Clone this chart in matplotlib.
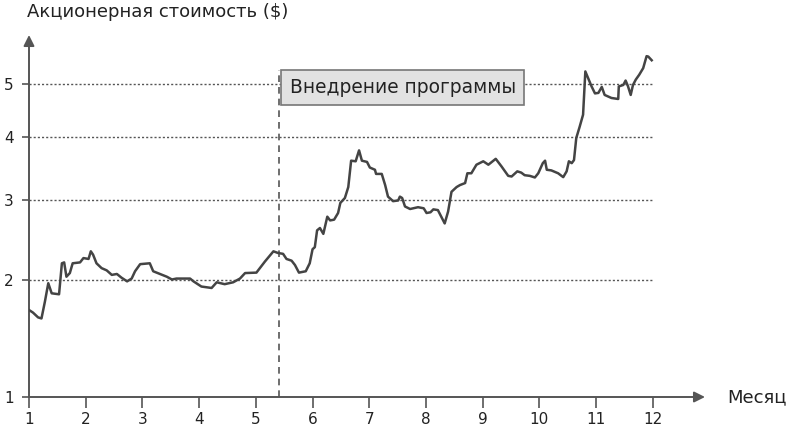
import matplotlib
matplotlib.use("Agg")
import matplotlib.pyplot as plt
import numpy as np

# month (1..12) and share value ($)
months = [1.00, 1.07, 1.16, 1.22, 1.28, 1.34, 1.40, 1.53, 1.58, 1.62, 1.66, 1.72, 1.77, 1.90,
          1.96, 2.05, 2.09, 2.13, 2.19, 2.28, 2.37, 2.46, 2.55, 2.63, 2.73, 2.81, 2.87, 2.96,
          3.13, 3.19, 3.31, 3.43, 3.52, 3.60, 3.84, 3.90, 4.04, 4.22, 4.31, 4.45, 4.60, 4.72,
          4.81, 5.01, 5.16, 5.31, 5.39, 5.48, 5.54, 5.63, 5.69, 5.76, 5.88, 5.95, 6.00, 6.04,
          6.08, 6.13, 6.19, 6.26, 6.31, 6.38, 6.45, 6.49, 6.57, 6.63, 6.68, 6.76, 6.82, 6.87,
          6.96, 7.01, 7.10, 7.12, 7.22, 7.28, 7.33, 7.42, 7.51, 7.54, 7.58, 7.63, 7.72, 7.86,
          7.96, 8.01, 8.08, 8.13, 8.21, 8.27, 8.33, 8.39, 8.45, 8.54, 8.60, 8.69, 8.73, 8.80,
          8.89, 9.01, 9.10, 9.23, 9.33, 9.45, 9.51, 9.61, 9.68, 9.74, 9.83, 9.92, 9.98, 10.06,
          10.10, 10.13, 10.21, 10.33, 10.42, 10.48, 10.52, 10.57, 10.61, 10.65, 10.71, 10.77,
          10.81, 10.86, 10.92, 10.98, 11.04, 11.10, 11.15, 11.27, 11.39, 11.40, 11.48, 11.52,
          11.56, 11.61, 11.65, 11.70, 11.76, 11.83, 11.89, 11.92, 11.98]
values = [1.70, 1.675, 1.63, 1.62, 1.78, 1.97, 1.865, 1.855, 2.19, 2.20, 2.04, 2.08, 2.19, 2.20,
          2.25, 2.24, 2.33, 2.29, 2.19, 2.135, 2.11, 2.06, 2.07, 2.03, 1.99, 2.02, 2.10, 2.18,
          2.19, 2.10, 2.07, 2.04, 2.01, 2.02, 2.02, 1.99, 1.935, 1.92, 1.98, 1.96, 1.98, 2.02,
          2.08, 2.085, 2.21, 2.33, 2.31, 2.30, 2.24, 2.22, 2.17, 2.085, 2.10, 2.19, 2.355, 2.38,
          2.59, 2.62, 2.545, 2.77, 2.72, 2.73, 2.82, 2.96, 3.03, 3.19, 3.60, 3.59, 3.77, 3.60,
          3.58, 3.49, 3.455, 3.39, 3.39, 3.22, 3.05, 2.985, 2.995, 3.05, 3.03, 2.91, 2.875, 2.90,
          2.885, 2.82, 2.83, 2.87, 2.86, 2.77, 2.68, 2.84, 3.12, 3.19, 3.22, 3.25, 3.40, 3.40,
          3.535, 3.59, 3.535, 3.63, 3.51, 3.36, 3.35, 3.43, 3.41, 3.37, 3.36, 3.335, 3.40, 3.56,
          3.60, 3.455, 3.445, 3.40, 3.34, 3.43, 3.59, 3.56, 3.61, 3.98, 4.18, 4.40,
          5.26, 5.12, 4.95, 4.81, 4.82, 4.94, 4.78, 4.72, 4.70, 4.95, 4.98, 5.07,
          4.96, 4.78, 4.98, 5.09, 5.19, 5.33, 5.59, 5.58, 5.50]

x_ticks = list(range(1, 13))
y_ticks = [1, 2, 3, 4, 5]
grid_levels = [2, 3, 4, 5]
launch_month = 5.41
launch_label = "Внедрение программы"

fig = plt.figure(figsize=(7.9, 4.33), dpi=100)
ax = fig.add_axes([29 / 790, 1 - 397 / 433, (705 - 29) / 790, (397 - 35) / 433])

fwd = lambda v: np.power(np.clip(v, 1e-9, None), 0.3)
inv = lambda v: np.power(np.clip(v, 1e-9, None), 1 / 0.3)
ax.set_yscale("function", functions=(fwd, inv))
ax.set_xlim(1, 12.92)
ax.set_ylim(1, 6.07)

for s in ax.spines.values():
    s.set_visible(False)

axis_col = "#555555"
ax.annotate("", xy=(1, 0), xytext=(0, 0), xycoords="axes fraction",
            arrowprops=dict(arrowstyle="-|>", color=axis_col, lw=1.4, mutation_scale=16,
                            shrinkA=0, shrinkB=0))
ax.annotate("", xy=(0, 1), xytext=(0, 0), xycoords="axes fraction",
            arrowprops=dict(arrowstyle="-|>", color=axis_col, lw=1.4, mutation_scale=16,
                            shrinkA=0, shrinkB=0))

ax.hlines(grid_levels, 1, 12, colors="#555555", linestyles=(0, (1.5, 1.5)), lw=1.0, zorder=1)
ax.vlines(launch_month, 1, 5.3, colors="#555555", linestyles=(0, (4, 3)), lw=1.2, zorder=1)

ax.plot(months, values, color="#444444", lw=1.8, zorder=3)

ax.text(5.60, 4.93, launch_label, fontsize=13.4, color="#222222", va="center", ha="left",
        zorder=4, bbox=dict(boxstyle="square,pad=0.45", fc="#e2e2e2", ec="#777777", lw=1.2))

ax.set_xticks(x_ticks)
ax.set_xticklabels([str(t) for t in x_ticks])
ax.set_yticks(y_ticks)
ax.set_yticklabels([str(t) for t in y_ticks])
ax.yaxis.set_minor_locator(matplotlib.ticker.NullLocator())
ax.tick_params(axis="x", direction="out", length=8, width=1.2, color=axis_col,
               labelsize=11, labelcolor="#222222", pad=3)
ax.tick_params(axis="y", direction="out", length=5, width=1.2, color=axis_col,
               labelsize=11, labelcolor="#222222", pad=6)

fig.text(27 / 790, 1 - 12 / 433, "Акционерная стоимость ($)", fontsize=13, color="#222222",
         ha="left", va="center")
fig.text(727 / 790, 1 - 397 / 433, "Месяц", fontsize=13, color="#222222",
         ha="left", va="center")

fig.savefig("out.png", dpi=100)
